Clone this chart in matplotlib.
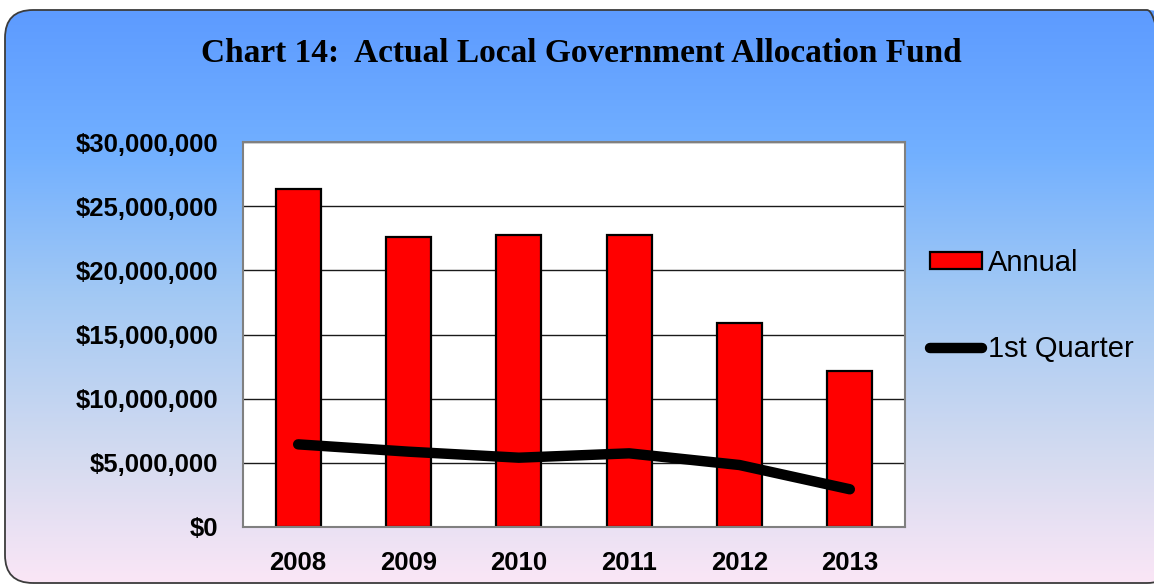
# FILE: plot.py
# BRIEF: Chart 14 - actual local government allocation fund, annual vs 1st quarter.

# General imports =================================================================================
import numpy as np
import matplotlib
matplotlib.use("Agg")
import matplotlib.pyplot as plt
from matplotlib.patches import FancyBboxPatch
from matplotlib.ticker import FuncFormatter
from matplotlib.colors import LinearSegmentedColormap
from matplotlib.transforms import IdentityTransform


# Data ============================================================================================
years = ["2008", "2009", "2010", "2011", "2012", "2013"]
annual = [26350000, 22580000, 22760000, 22730000, 15870000, 12130000]
first_quarter = [6440000, 5870000, 5400000, 5740000, 4830000, 2940000]
y_ticks = [0, 5000000, 10000000, 15000000, 20000000, 25000000, 30000000]

title = "Chart 14:  Actual Local Government Allocation Fund"


# Figure and background ===========================================================================
W, H = 1154, 585
fig = plt.figure(figsize=(W / 100, H / 100), dpi=100)
fig.patch.set_facecolor("white")

bg = fig.add_axes([0, 0, 1, 1])
bg.axis("off")

# vertical gradient, blue at the top fading to pale pink at the bottom
grad_cmap = LinearSegmentedColormap.from_list(
    "bg", [(0.0, "#5d9bff"), (0.25, "#72b0ff"), (0.5, "#a3c9f4"),
           (0.78, "#d4dbf0"), (1.0, "#fbe6f6")])
grad = np.linspace(0, 1, 256).reshape(-1, 1)
img = bg.imshow(grad, cmap=grad_cmap, aspect="auto", extent=(5, W + 60, 584, 10), zorder=0)
bg.set_xlim(0, W)
bg.set_ylim(H, 0)

# rounded frame in pixel units (origin bottom left), right edge runs off the picture
box = FancyBboxPatch((5, H - 583), W + 16, 573, boxstyle="round,pad=0,rounding_size=28",
                     facecolor="none", edgecolor="#3c3c3c", linewidth=1.3, zorder=1,
                     transform=IdentityTransform())
bg.add_patch(box)
img.set_clip_path(box)

bg.text(581, 54, title, ha="center", va="center", fontsize=24, fontweight="bold",
        family="Liberation Serif", color="black")


# Chart area ======================================================================================
ax = fig.add_axes([243 / W, 1 - 527 / H, (905 - 243) / W, (527 - 142) / H])
ax.set_facecolor("white")

x = np.arange(len(years))
bars = ax.bar(x, annual, width=0.41, color="#ff0000", edgecolor="black", linewidth=1.6,
              label="Annual", zorder=2)
line, = ax.plot(x, first_quarter, color="black", linewidth=7.5, solid_capstyle="round",
                solid_joinstyle="round", label="1st Quarter", zorder=3)

ax.set_xlim(-0.5, len(years) - 0.5)
ax.set_ylim(0, 30000000)
ax.set_yticks(y_ticks)
ax.yaxis.set_major_formatter(FuncFormatter(lambda v, p: "${:,.0f}".format(v)))
ax.set_xticks(x)
ax.set_xticklabels(years)
ax.grid(axis="y", color="#1a1a1a", linewidth=1.0, zorder=1)
ax.set_axisbelow(True)

for side in ax.spines.values():
    side.set_color("#808080")
    side.set_linewidth(1.5)

ax.tick_params(axis="both", length=0)
ax.tick_params(axis="y", pad=18)
ax.tick_params(axis="x", pad=17)
for lbl in ax.get_xticklabels() + ax.get_yticklabels():
    lbl.set_fontfamily("Liberation Sans")
    lbl.set_fontweight("bold")
    lbl.set_fontsize(18.5)

leg = ax.legend([bars, line], ["Annual", "1st Quarter"], loc="center left",
                bbox_to_anchor=(1.02, 0.574), frameon=False,
                prop={"family": "Liberation Sans", "size": 21},
                handlelength=1.8, handleheight=0.5, handletextpad=0.2,
                labelspacing=2.0, borderaxespad=0)

fig.savefig("out.png", dpi=100, facecolor=fig.get_facecolor())
